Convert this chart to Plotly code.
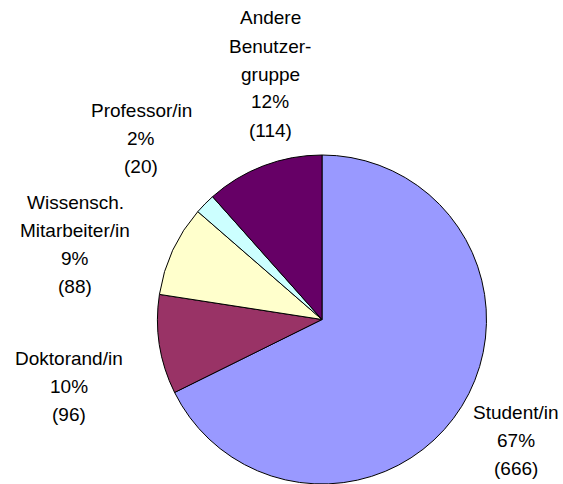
import plotly.graph_objects as go

# Data
categories = ["Student/in", "Doktorand/in", "Wissensch.<br>Mitarbeiter/in", "Professor/in", "Andere<br>Benutzer-<br>gruppe"]
counts = [666, 96, 88, 20, 114]
pct_labels = ["67%", "10%", "9%", "2%", "12%"]
colors = ["#9999FF", "#993366", "#FFFFCC", "#CCFFFF", "#660066"]

W, H = 563, 484
# label anchor (center of first line) in pixels
label_pos = [(516, 412), (69, 358), (75, 202), (141, 110), (270, 18)]
LINE = 28

fig = go.Figure(go.Pie(
    values=counts,
    labels=categories,
    sort=False,
    direction="clockwise",
    rotation=0,
    marker=dict(colors=colors, line=dict(color="black", width=1)),
    textinfo="none",
    hoverinfo="label+value+percent",
    domain=dict(x=[157 / W, 487 / W], y=[0.0, 329 / H]),
    showlegend=False,
))

annotations = []
for cat, cnt, pct, (px, py) in zip(categories, counts, pct_labels, label_pos):
    lines = cat.split("<br>") + [pct, f"({cnt})"]
    for i, t in enumerate(lines):
        annotations.append(dict(
            x=px / W, y=1 - (py + i * LINE) / H,
            xref="paper", yref="paper",
            text=t, showarrow=False,
            xanchor="center", yanchor="middle",
            font=dict(family="Liberation Sans, Arial, sans-serif", size=19, color="black"),
        ))

fig.update_layout(
    width=W, height=H,
    margin=dict(l=0, r=0, t=0, b=0),
    paper_bgcolor="white",
    plot_bgcolor="white",
    annotations=annotations,
)

fig.write_html(
    "out.html",
    config={"displayModeBar": False},
    post_script="document.body.style.margin='0';document.body.style.overflow='hidden';",
)
